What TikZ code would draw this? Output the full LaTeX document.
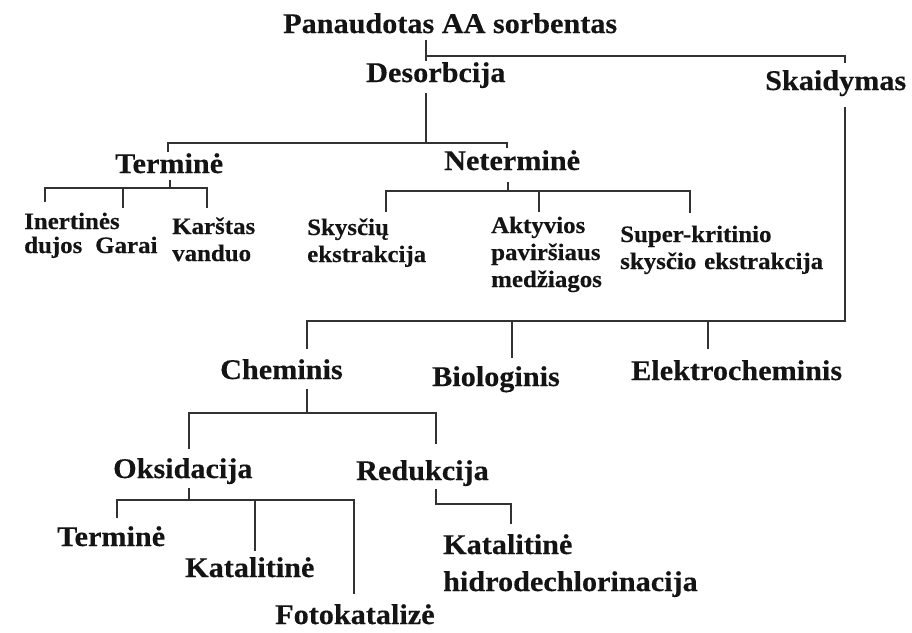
\documentclass[tikz,border=0pt]{standalone}
\usepackage{fontspec}
\newfontfamily\dfont{Liberation Serif}[FakeStretch=1.06,FakeBold=0.35]
\definecolor{tc}{RGB}{20,20,20}
\definecolor{lc}{RGB}{50,50,50}
\begin{document}
\begin{tikzpicture}[x=1pt,y=-1pt,
  ln/.style={line width=1.7pt, draw=lc, line join=miter},
  lbl/.style={inner sep=0pt, anchor=base west, text=tc,
    font=\dfont\bfseries\fontsize{28.5}{32}\selectfont},
  smallbox/.style={inner sep=0pt, anchor=base west, text=tc,
    font=\dfont\bfseries\fontsize{23.5}{27}\selectfont, text width=#1, align=left},
  tightbox/.style={inner sep=0pt, anchor=base west, text=tc,
    font=\dfont\bfseries\fontsize{23.5}{24}\selectfont, text width=#1, align=left},
  smalltxt/.style={inner sep=0pt, anchor=base west, text=tc,
    font=\dfont\bfseries\fontsize{23.5}{27}\selectfont},
  bigbox/.style={inner sep=0pt, anchor=base west, text=tc,
    font=\dfont\bfseries\fontsize{28.5}{37}\selectfont, text width=#1, align=left}]
\useasboundingbox[fill=white] (0,0) rectangle (912,632);

% text nodes
\node[lbl] (root) at (283,33) {Panaudotas AA sorbentas};
\node[lbl] (des) at (366,82) {Desorbcija};
\node[lbl] (ska) at (765,90) {Skaidymas};
\node[lbl] (ter) at (115,173) {Terminė};
\node[lbl] (nter) at (444,170) {Neterminė};
\node[tightbox=110pt] (ine) at (24,229) {Inertinės\\dujos};
\node[smalltxt] (gar) at (95,253) {Garai};
\node[smallbox=90pt] (kar) at (172,234) {Karštas\\vanduo};
\node[smallbox=130pt] (sky) at (307,235) {Skysčių\\ekstrakcija};
\node[smallbox=120pt] (akt) at (491,233) {Aktyvios\\paviršiaus\\medžiagos};
\node[smallbox=240pt] (sup) at (620,242) {Super-kritinio\\skysčio ekstrakcija};
\node[lbl] (che) at (220,379) {Cheminis};
\node[lbl] (bio) at (432,386) {Biologinis};
\node[lbl] (ele) at (631,380) {Elektrocheminis};
\node[lbl] (oks) at (113,478) {Oksidacija};
\node[lbl] (red) at (356,480) {Redukcija};
\node[lbl] (ter2) at (57,546) {Terminė};
\node[lbl] (kat) at (185,577) {Katalitinė};
\node[lbl] (fot) at (275,624) {Fotokatalizė};
\node[bigbox=280pt] (khd) at (443,554) {Katalitinė\\hidrodechlorinacija};

% junction coordinates
\coordinate (rootB) at (426,40);
\coordinate (desT) at (426,61);
\coordinate (j1) at (426,56);
\coordinate (skaT) at (845,63);
\coordinate (desB) at (426,93);
\coordinate (j2) at (426,143);
\coordinate (terT) at (168,152);
\coordinate (nterT) at (507,148);
\coordinate (terB) at (170,180);
\coordinate (j3) at (170,188);
\coordinate (ineT) at (45,202);
\coordinate (garT) at (123,208);
\coordinate (karT) at (207,208);
\coordinate (nterB) at (508,182);
\coordinate (j4) at (508,191);
\coordinate (skyT) at (386,212);
\coordinate (aktT) at (539,212);
\coordinate (supT) at (690,213);
\coordinate (skaB) at (845,107);
\coordinate (j5) at (845,321);
\coordinate (cheT) at (307,349);
\coordinate (bioT) at (512,358);
\coordinate (eleT) at (708,349);
\coordinate (cheB) at (307,389);
\coordinate (j6) at (307,413);
\coordinate (oksT) at (189,449);
\coordinate (redT) at (436,444);
\coordinate (oksB) at (189,488);
\coordinate (j7) at (189,500);
\coordinate (ter2T) at (117,518);
\coordinate (katT) at (255,551);
\coordinate (fotT) at (354,594);
\coordinate (redB) at (436,489);
\coordinate (khdT) at (511,524);

% connectors
\draw[ln] (rootB) -- (desT);
\draw[ln] (j1) -| (skaT);
\draw[ln] (desB) -- (j2);
\draw[ln] (terT) |- (j2) -| (nterT);
\draw[ln] (terB) -- (j3);
\draw[ln] (ineT) |- (j3) -| (karT);
\draw[ln] (garT) -- (garT |- j3);
\draw[ln] (nterB) -- (j4);
\draw[ln] (skyT) |- (j4) -| (supT);
\draw[ln] (aktT) -- (aktT |- j4);
\draw[ln] (skaB) -- (j5) -| (cheT);
\draw[ln] (bioT) -- (bioT |- j5);
\draw[ln] (eleT) -- (eleT |- j5);
\draw[ln] (cheB) -- (j6);
\draw[ln] (oksT) |- (j6) -| (redT);
\draw[ln] (oksB) -- (j7);
\draw[ln] (ter2T) |- (j7) -| (fotT);
\draw[ln] (katT) -- (katT |- j7);
\draw[ln] (redB) |- (khdT |- 0,504) -- (khdT);
\end{tikzpicture}
\end{document}
